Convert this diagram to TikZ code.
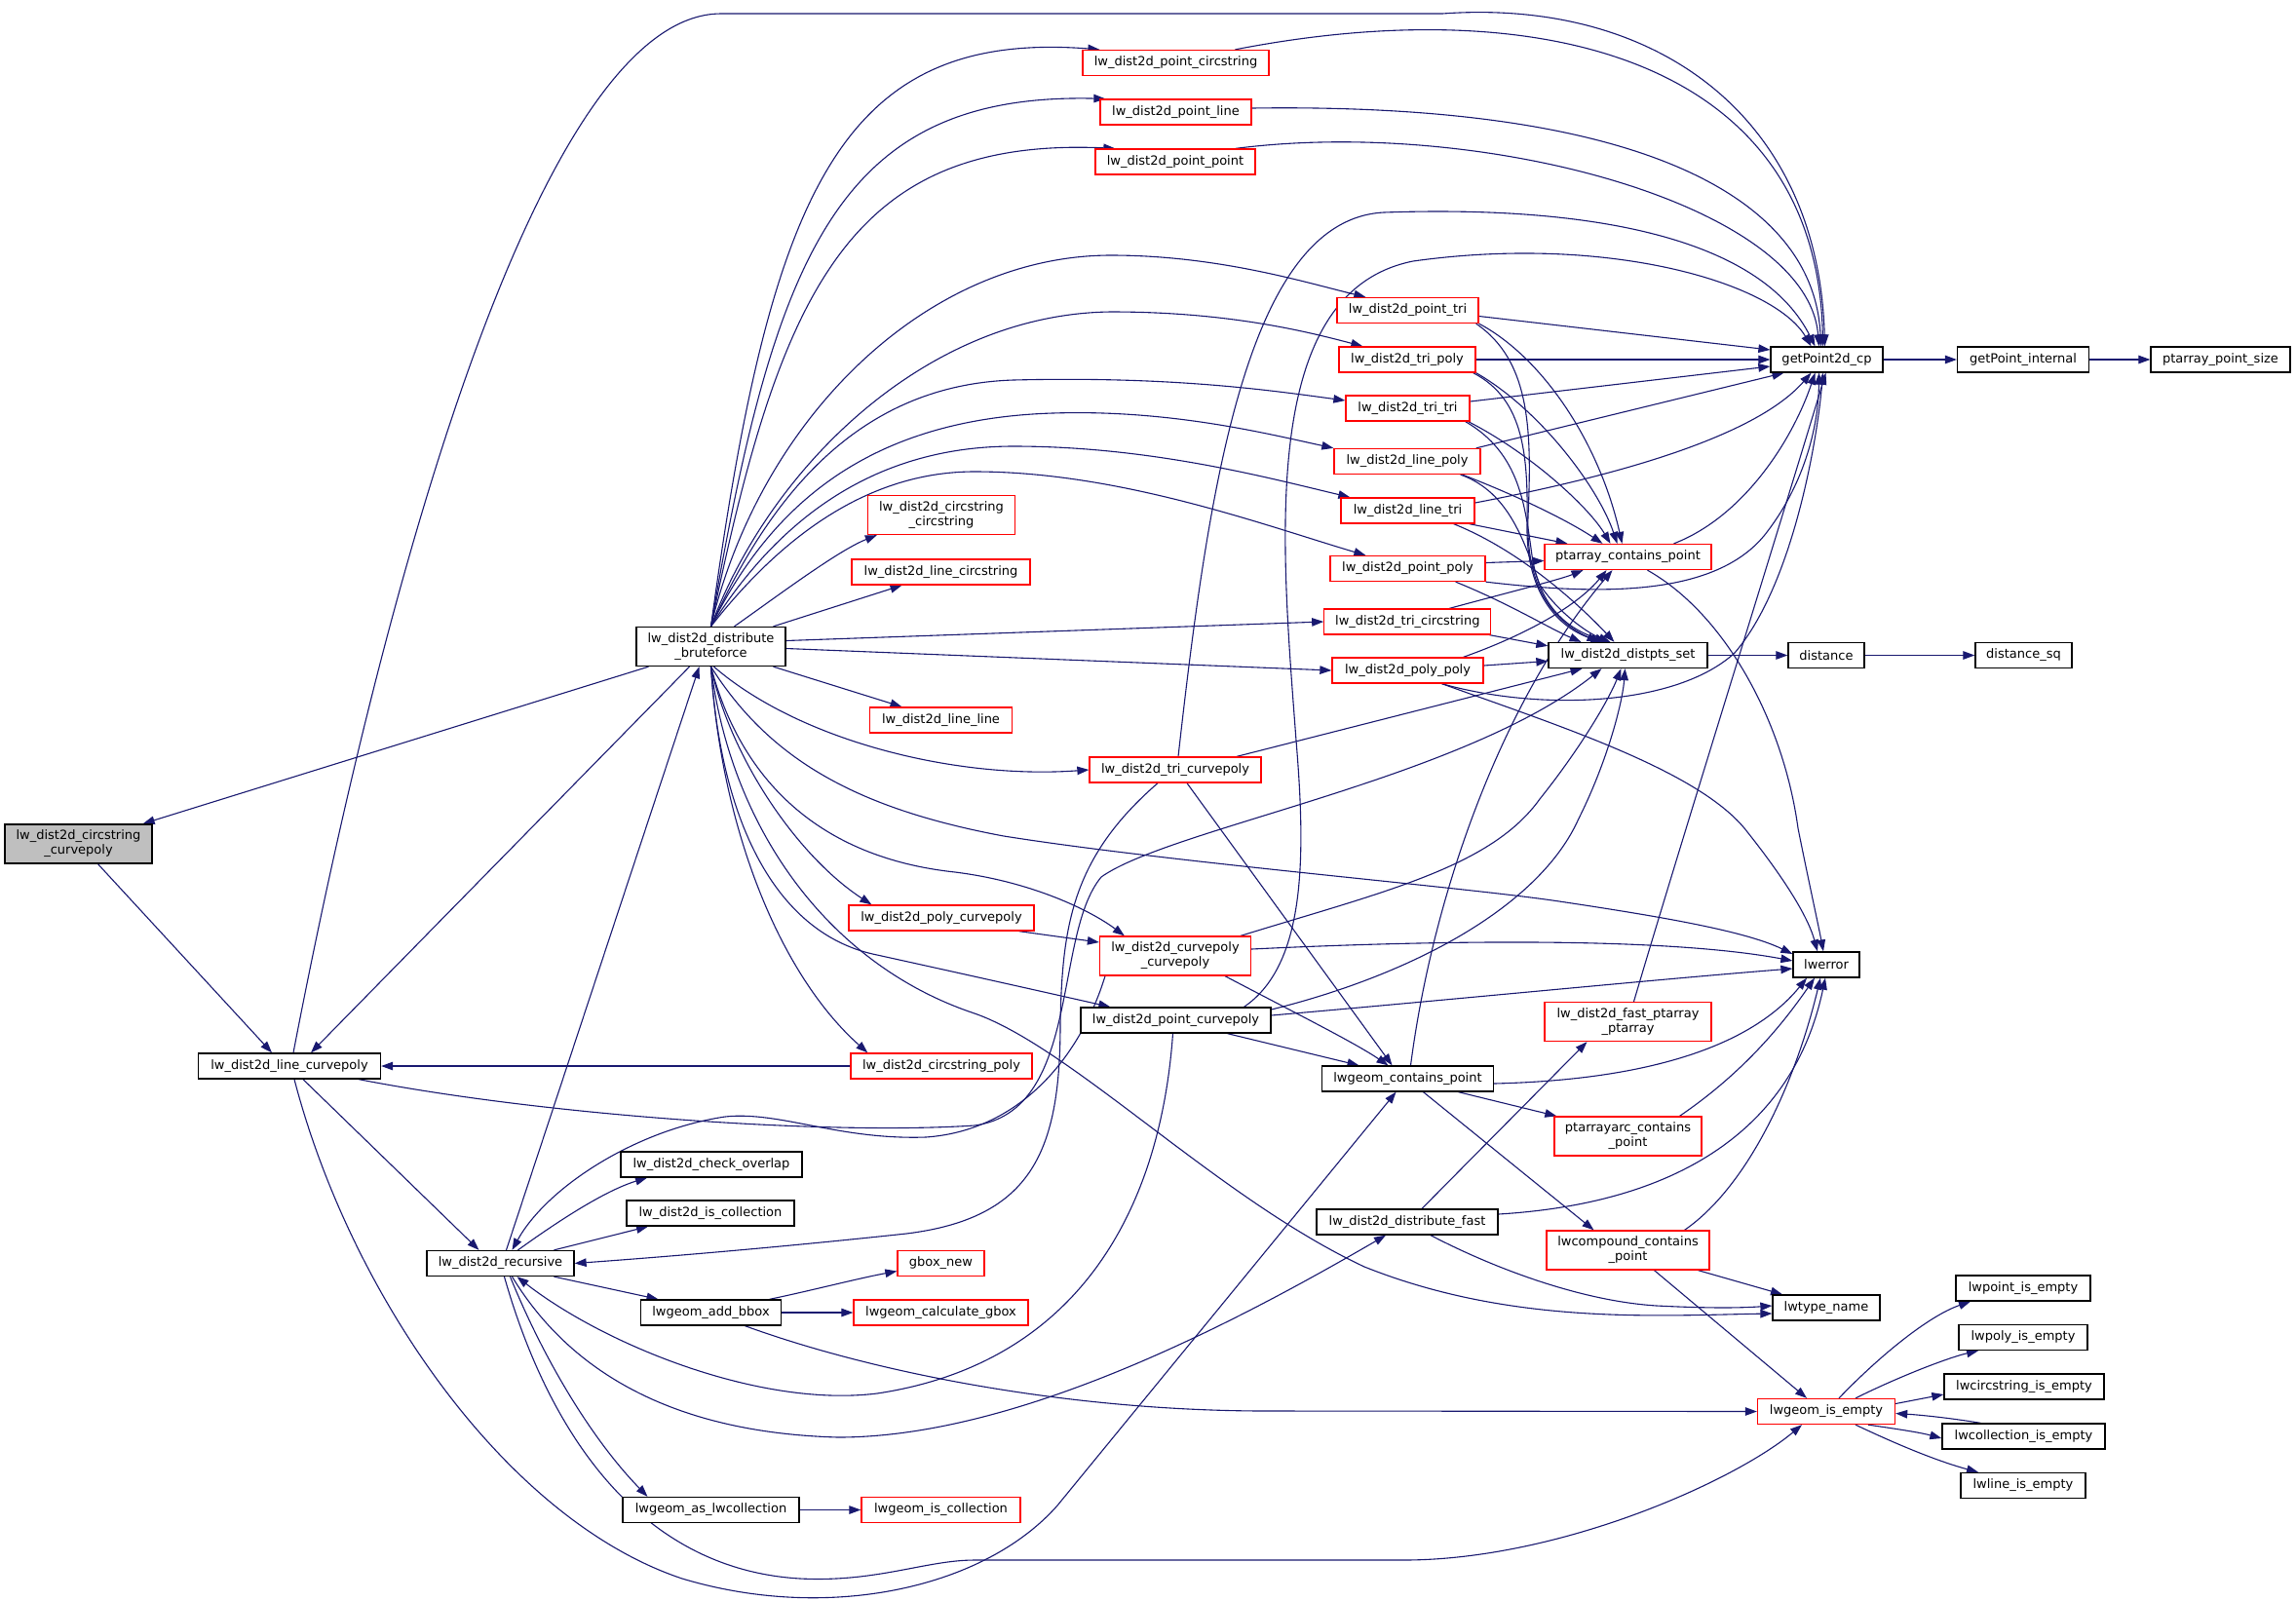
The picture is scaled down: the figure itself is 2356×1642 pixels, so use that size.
\documentclass[tikz,border=0pt]{standalone}
\usepackage{fontspec}
\setmainfont{DejaVu Sans}
\usetikzlibrary{arrows.meta}
\pgfdeclarelayer{bg}
\pgfsetlayers{bg,main}
\definecolor{edgec}{HTML}{191970}
\definecolor{grayf}{HTML}{BFBFBF}
\begin{document}
\begin{tikzpicture}[x=1pt,y=-1pt,
  nd/.style={draw=black, fill=white, line width=1.3pt, inner sep=0pt, minimum height=26pt, align=center, font=\fontsize{13}{15}\selectfont},
  rd/.style={nd, draw=red},
  two/.style={minimum height=40pt},
  ed/.style={draw=edgec, line width=1.1pt, -{Triangle[length=12pt,width=8.5pt]}}
]
\useasboundingbox (0,0) rectangle (2356,1642);
% ---------------- nodes ----------------
\node[nd, fill=grayf, two, minimum width=151pt] (gray) at (80.5,866) {lw\_dist2d\_circstring\\\_curvepoly};
\node[nd, minimum width=187pt] (lcp) at (297,1094) {lw\_dist2d\_line\_curvepoly};
\node[nd, two, minimum width=153pt] (bf) at (729.5,663.5) {lw\_dist2d\_distribute\\\_bruteforce};
\node[nd, minimum width=151pt] (rec) at (513.5,1296.5) {lw\_dist2d\_recursive};
\node[nd, minimum width=186pt] (cko) at (730,1195) {lw\_dist2d\_check\_overlap};
\node[nd, minimum width=172pt] (isc) at (729,1245) {lw\_dist2d\_is\_collection};
\node[nd, minimum width=144pt] (abb) at (729.5,1347) {lwgeom\_add\_bbox};
\node[nd, minimum width=181pt] (alc) at (729.5,1549.5) {lwgeom\_as\_lwcollection};
\node[rd, minimum width=191pt] (pcs) at (1206.5,64.5) {lw\_dist2d\_point\_circstring};
\node[rd, minimum width=155pt] (pl) at (1206.5,115) {lw\_dist2d\_point\_line};
\node[rd, minimum width=164pt] (pp) at (1206,166) {lw\_dist2d\_point\_point};
\node[rd, two, minimum width=151pt] (cc) at (966,528.5) {lw\_dist2d\_circstring\\\_circstring};
\node[rd, minimum width=183pt] (lcs) at (965.5,587) {lw\_dist2d\_line\_circstring};
\node[rd, minimum width=146pt] (ll) at (965.5,739) {lw\_dist2d\_line\_line};
\node[rd, minimum width=176pt] (tcp) at (1206,790) {lw\_dist2d\_tri\_curvepoly};
\node[rd, minimum width=190pt] (pcp) at (966,942) {lw\_dist2d\_poly\_curvepoly};
\node[rd, two, minimum width=155pt] (ccp) at (1206,981) {lw\_dist2d\_curvepoly\\\_curvepoly};
\node[nd, minimum width=195pt] (ptcp) at (1206.5,1047) {lw\_dist2d\_point\_curvepoly};
\node[rd, minimum width=186pt] (csp) at (966,1094) {lw\_dist2d\_circstring\_poly};
\node[rd, minimum width=89pt] (gbn) at (965.5,1296.5) {gbox\_new};
\node[rd, minimum width=179pt] (lcg) at (965.5,1347) {lwgeom\_calculate\_gbox};
\node[rd, minimum width=163pt] (lic) at (965.5,1549.5) {lwgeom\_is\_collection};
\node[rd, minimum width=145pt] (pt) at (1444.5,318.5) {lw\_dist2d\_point\_tri};
\node[rd, minimum width=140pt] (tp) at (1444,369) {lw\_dist2d\_tri\_poly};
\node[rd, minimum width=127pt] (tt) at (1444.5,419) {lw\_dist2d\_tri\_tri};
\node[rd, minimum width=150pt] (lp) at (1444,473.5) {lw\_dist2d\_line\_poly};
\node[rd, minimum width=137pt] (lt) at (1444.5,524) {lw\_dist2d\_line\_tri};
\node[rd, minimum width=159pt] (ppo) at (1444.5,583.5) {lw\_dist2d\_point\_poly};
\node[rd, minimum width=171pt] (tcs) at (1444.3,638) {lw\_dist2d\_tri\_circstring};
\node[rd, minimum width=155pt] (pop) at (1444.5,688) {lw\_dist2d\_poly\_poly};
\node[nd, minimum width=176pt] (lgcp) at (1444.5,1107) {lwgeom\_contains\_point};
\node[nd, minimum width=186pt] (df) at (1444,1254) {lw\_dist2d\_distribute\_fast};
\node[rd, minimum width=171pt] (pacp) at (1670.5,571.5) {ptarray\_contains\_point};
\node[nd, minimum width=163pt] (dps) at (1670.5,672.5) {lw\_dist2d\_distpts\_set};
\node[rd, two, minimum width=171pt] (fpp) at (1670.5,1048.5) {lw\_dist2d\_fast\_ptarray\\\_ptarray};
\node[rd, two, minimum width=151pt] (pacq) at (1670.5,1166) {ptarrayarc\_contains\\\_point};
\node[rd, two, minimum width=167pt] (lccp) at (1670.5,1283) {lwcompound\_contains\\\_point};
\node[nd, minimum width=115pt] (gp) at (1874.5,369) {getPoint2d\_cp};
\node[nd, minimum width=78pt] (dist) at (1874,672.5) {distance};
\node[nd, minimum width=68pt] (err) at (1874,990) {lwerror};
\node[nd, minimum width=110pt] (ltn) at (1874,1342) {lwtype\_name};
\node[rd, minimum width=141pt] (lie) at (1874,1448.5) {lwgeom\_is\_empty};
\node[nd, minimum width=135pt] (gpi) at (2076,369) {getPoint\_internal};
\node[nd, minimum width=99pt] (dsq) at (2076.5,672.5) {distance\_sq};
\node[nd, minimum width=138pt] (lpe) at (2076,1322) {lwpoint\_is\_empty};
\node[nd, minimum width=132pt] (lpoe) at (2076,1372.5) {lwpoly\_is\_empty};
\node[nd, minimum width=164pt] (lcse) at (2077,1423) {lwcircstring\_is\_empty};
\node[nd, minimum width=167pt] (lcoe) at (2076.5,1474) {lwcollection\_is\_empty};
\node[nd, minimum width=128pt] (lle) at (2076,1524.5) {lwline\_is\_empty};
\node[nd, minimum width=143pt] (pps) at (2278.5,369) {ptarray\_point\_size};
% ---------------- edges ----------------
\begin{pgfonlayer}{bg}
\fill[white] (0,0) rectangle (2356,1642);
% gray and bruteforce
\draw[ed] ([xshift=20pt]gray.south) -- ([xshift=-18pt]lcp.north);
\draw[ed] ([xshift=-64pt]bf.south) -- ([xshift=-10pt]gray.north east);
\draw[ed] ([xshift=-22pt]bf.south) -- ([xshift=22pt]lcp.north);
\draw[ed] ([xshift=6pt]rec.north) -- ([xshift=-12pt]bf.south);
% line_curvepoly
\draw[ed] ([xshift=4pt]lcp.north) .. controls (401,561) and (560,14) .. (740,14) -- (1480,14) .. controls (1700,-2) and (1866,120) .. ([xshift=-2pt]gp.north);
\draw[ed] ([xshift=14pt]lcp.south) -- ([xshift=-22pt]rec.north);
\draw[ed] ([xshift=5pt]lcp.south) .. controls (360,1330) and (520,1560) .. (700,1620) .. controls (850,1665) and (1010,1630) .. (1085,1545) -- ([xshift=-12pt]lgcp.south);
\draw[ed] ([xshift=-23pt]lcp.south east) .. controls (560,1145) and (850,1165) .. (1000,1155) .. controls (1110,1140) and (1080,960) .. (1130,900) .. controls (1200,850) and (1500,800) .. ([xshift=-27pt]dps.south);
% recursive
\draw[ed] ([xshift=18pt]rec.north) .. controls (570,1255) and (620,1222) .. ([xshift=-66pt]cko.south);
\draw[ed] ([xshift=55pt]rec.north) -- ([xshift=-64pt]isc.south);
\draw[ed] ([xshift=55pt]rec.south) -- ([xshift=-54pt]abb.north);
\draw[ed] ([xshift=10pt]rec.south) .. controls (560,1400) and (610,1480) .. ([xshift=-65pt]alc.north);
\draw[ed] ([xshift=4pt]rec.south) .. controls (560,1460) and (650,1610) .. (821,1620) .. controls (900,1624) and (950,1601) .. (1000,1601) -- (1440,1601) .. controls (1600,1601) and (1780,1520) .. ([xshift=-25pt]lie.south);
\draw[ed] ([xshift=12pt]rec.south) .. controls (580,1400) and (680,1470) .. (860,1475) .. controls (1050,1475) and (1280,1350) .. ([xshift=-22pt]df.south);
% into recursive
\draw[ed] ([xshift=-3pt]ptcp.south) .. controls (1190,1250) and (1100,1400) .. (900,1430) .. controls (780,1445) and (620,1380) .. ([xshift=17pt]rec.south);
\draw[ed] ([xshift=-18pt]tcp.south) .. controls (1100,880) and (1090,950) .. (1088,1050) .. controls (1088,1180) and (1060,1250) .. (930,1266) .. controls (800,1280) and (680,1290) .. (rec.east);
\draw[ed] ([xshift=-72pt]ccp.south) .. controls (1110,1080) and (1050,1160) .. (950,1167) .. controls (860,1170) and (800,1140) .. (744,1146) .. controls (650,1160) and (560,1220) .. ([xshift=12pt]rec.north);
% bruteforce fan
\draw[ed] (bf.north) .. controls (790,200) and (860,30) .. ([xshift=18pt]pcs.north west);
\draw[ed] (bf.north) .. controls (795,260) and (860,95) .. ([xshift=6pt]pl.north west);
\draw[ed] (bf.north) .. controls (800,300) and (870,140) .. ([xshift=21pt]pp.north west);
\draw[ed] (bf.north) .. controls (780,430) and (950,262) .. (1140,262) .. controls (1250,262) and (1340,290) .. ([xshift=30pt]pt.north west);
\draw[ed] (bf.north) .. controls (790,480) and (950,322) .. (1140,320) .. controls (1260,320) and (1340,340) .. ([xshift=25pt]tp.north west);
\draw[ed] (bf.north) .. controls (790,510) and (880,395) .. (1040,390) .. controls (1200,386) and (1300,400) .. ([yshift=8pt]tt.west);
\draw[ed] (bf.north) .. controls (790,520) and (890,430) .. (1080,424) .. controls (1200,420) and (1300,445) .. (lp.north west);
\draw[ed] (bf.north) .. controls (800,530) and (900,458) .. (1040,458) .. controls (1180,458) and (1300,490) .. ([xshift=10pt]lt.north west);
\draw[ed] (bf.north) .. controls (810,540) and (900,484) .. (1000,484) .. controls (1150,484) and (1300,540) .. ([xshift=37pt]ppo.north west);
\draw[ed] ([xshift=24pt]bf.north) .. controls (800,610) and (860,565) .. ([xshift=10pt]cc.south west);
\draw[ed] ([xshift=64pt]bf.north) -- ([xshift=-40pt]lcs.south);
\draw[ed] ([yshift=6pt]bf.east) -- (tcs.west);
\draw[ed] ([yshift=-2pt]bf.east) -- (pop.west);
\draw[ed] ([xshift=64pt]bf.south) -- ([xshift=-40pt]ll.north);
\draw[ed] ([xshift=3pt]bf.south) .. controls (820,760) and (980,800) .. (tcp.west);
\draw[ed] (bf.south) .. controls (750,780) and (820,880) .. ([xshift=24pt]pcp.north west);
\draw[ed] (bf.south) .. controls (760,800) and (840,880) .. (980,895) .. controls (1060,905) and (1120,935) .. ([xshift=26pt]ccp.north west);
\draw[ed] (bf.south) .. controls (740,850) and (800,960) .. (900,980) .. controls (1000,1002) and (1080,1020) .. ([xshift=31pt]ptcp.north west);
\draw[ed] (bf.south) .. controls (740,850) and (800,1000) .. ([xshift=18pt]csp.north west);
\draw[ed] (bf.south) .. controls (790,780) and (880,830) .. (1030,858) .. controls (1200,885) and (1500,910) .. (1600,925) .. controls (1700,940) and (1790,955) .. ([yshift=11pt]err.west);
\draw[ed] (bf.south) .. controls (750,850) and (850,990) .. (1000,1040) .. controls (1100,1075) and (1250,1230) .. (1400,1300) .. controls (1550,1360) and (1700,1350) .. ([yshift=-6pt]ltn.west);
% small links on the left
\draw[ed] (csp.west) -- (lcp.east);
\draw[ed] ([xshift=-16pt]pcp.south east) -- ([yshift=14pt]ccp.west);
% into getPoint2d_cp
\draw[ed] ([xshift=61pt]pcs.north) .. controls (1580,-10) and (1865,60) .. ([xshift=-4pt]gp.north);
\draw[ed] ([yshift=4pt]pl.east) .. controls (1700,105) and (1862,210) .. ([xshift=-6pt]gp.north);
\draw[ed] ([xshift=62pt]pp.north) .. controls (1520,120) and (1855,210) .. ([xshift=-8pt]gp.north);
\draw[ed] ([xshift=3pt]tcp.north) .. controls (1240,500) and (1280,225) .. (1420,218) .. controls (1650,210) and (1810,250) .. ([xshift=-12pt]gp.north);
\draw[ed] ([xshift=70pt]ptcp.north) .. controls (1340,990) and (1340,880) .. (1330,760) .. controls (1315,560) and (1290,300) .. (1450,268) .. controls (1650,240) and (1820,290) .. ([xshift=-16pt]gp.north);
\draw[ed] ([yshift=-6pt]pt.east) -- ([yshift=10pt]gp.west);
\draw[ed] (tp.east) -- (gp.west);
\draw[ed] ([yshift=7pt]tt.east) -- ([yshift=-7pt]gp.west);
\draw[ed] ([xshift=-5pt]lp.north east) -- ([xshift=-44pt]gp.south);
\draw[ed] ([yshift=8pt]lt.east) .. controls (1650,490) and (1800,450) .. ([xshift=-16pt]gp.south);
\draw[ed] (ppo.south east) .. controls (1650,612) and (1760,610) .. (1810,550) .. controls (1850,500) and (1866,440) .. ([xshift=-8pt]gp.south);
\draw[ed] ([xshift=47pt]pacp.north) .. controls (1790,530) and (1840,450) .. ([xshift=-12pt]gp.south);
\draw[ed] ([xshift=35pt]pop.south) .. controls (1580,730) and (1720,725) .. (1780,670) .. controls (1840,600) and (1865,450) .. ([xshift=-4pt]gp.south);
\draw[ed] ([xshift=6pt]fpp.north) .. controls (1720,880) and (1820,560) .. ([xshift=-1pt]gp.south);
% into ptarray_contains_point
\draw[ed] (pt.south east) .. controls (1580,365) and (1640,450) .. ([xshift=-6pt]pacp.north);
\draw[ed] (tp.south east) .. controls (1580,420) and (1640,500) .. ([xshift=-11pt]pacp.north);
\draw[ed] ([xshift=-2pt]tt.south east) .. controls (1570,465) and (1630,520) .. ([xshift=-18pt]pacp.north);
\draw[ed] ([xshift=-19pt]lp.south east) .. controls (1560,510) and (1610,535) .. ([xshift=-26pt]pacp.north);
\draw[ed] ([xshift=-6pt]lt.south east) -- ([xshift=-62pt]pacp.north);
\draw[ed] ([yshift=6pt]ppo.east) -- ([yshift=-4pt]pacp.west);
\draw[ed] ([xshift=43pt]tcs.north) .. controls (1540,610) and (1600,595) .. ([xshift=-46pt]pacp.south);
\draw[ed] ([xshift=57pt]pop.north) .. controls (1570,650) and (1620,620) .. ([xshift=-22pt]pacp.south);
\draw[ed] ([xshift=3pt]lgcp.north) .. controls (1470,920) and (1540,720) .. ([xshift=-16pt]pacp.south);
% into lw_dist2d_distpts_set
\draw[ed] ([xshift=-3pt]pt.south east) .. controls (1570,370) and (1572,440) .. (1568,530) .. controls (1565,610) and (1600,640) .. ([xshift=-30pt]dps.north);
\draw[ed] ([xshift=-3pt]tp.south east) .. controls (1565,410) and (1568,470) .. (1567,540) .. controls (1566,610) and (1600,645) .. ([xshift=-26pt]dps.north);
\draw[ed] ([xshift=-5pt]tt.south east) .. controls (1560,465) and (1565,520) .. (1572,570) .. controls (1580,625) and (1610,645) .. ([xshift=-22pt]dps.north);
\draw[ed] ([xshift=-21pt]lp.south east) .. controls (1550,505) and (1565,560) .. (1580,600) .. controls (1600,630) and (1630,650) .. ([xshift=-18pt]dps.north);
\draw[ed] ([xshift=-22pt]lt.south east) .. controls (1560,565) and (1620,620) .. ([xshift=-14pt]dps.north);
\draw[ed] ([xshift=-31pt]ppo.south east) .. controls (1550,620) and (1590,645) .. ([xshift=-48pt]dps.north);
\draw[ed] ([xshift=-2pt]tcs.south east) -- ([yshift=-4pt]dps.north west);
\draw[ed] ([yshift=5pt]pop.east) -- ([yshift=-6pt]dps.west);
\draw[ed] ([xshift=63pt]tcp.north) -- ([xshift=-47pt]dps.south);
\draw[ed] ([xshift=67pt]ccp.north) .. controls (1420,915) and (1530,890) .. (1580,820) .. controls (1620,770) and (1650,720) .. ([xshift=-7pt]dps.south);
\draw[ed] ([yshift=11pt]ptcp.east) .. controls (1450,1000) and (1580,930) .. (1620,840) .. controls (1650,780) and (1665,720) .. ([xshift=-3pt]dps.south);
% into lwerror
\draw[ed] ([xshift=20pt]pacp.south) .. controls (1770,630) and (1830,740) .. (1845,850) .. controls (1855,900) and (1866,950) .. ([xshift=-3pt]err.north);
\draw[ed] ([xshift=35pt]pop.south) .. controls (1600,745) and (1740,790) .. (1790,850) .. controls (1830,900) and (1855,940) .. ([xshift=-9pt]err.north);
\draw[ed] ([yshift=7pt]ccp.east) .. controls (1450,966) and (1700,960) .. ([yshift=4pt]err.west);
\draw[ed] ([yshift=5pt]ptcp.east) .. controls (1500,1025) and (1700,1005) .. ([yshift=-4pt]err.west);
\draw[ed] ([yshift=-5pt]lgcp.east) .. controls (1700,1108) and (1800,1070) .. ([xshift=-20pt]err.south);
\draw[ed] ([xshift=53pt]pacq.north) .. controls (1790,1100) and (1830,1050) .. ([xshift=-12pt]err.south);
\draw[ed] ([xshift=58pt]lccp.north) .. controls (1790,1220) and (1840,1120) .. ([xshift=-6pt]err.south);
\draw[ed] ([yshift=8pt]df.east) .. controls (1720,1235) and (1840,1160) .. ([xshift=-1pt]err.south);
% distribute_fast, contains_point and compound
\draw[ed] ([xshift=15pt]df.north) -- ([xshift=-42pt]fpp.south);
\draw[ed] ([xshift=24pt]df.south) .. controls (1530,1300) and (1620,1335) .. (1700,1340) .. controls (1760,1343) and (1790,1342) .. ([yshift=2pt]ltn.west);
\draw[ed] ([xshift=72pt]lccp.south) -- ([xshift=-45pt]ltn.north);
\draw[ed] ([xshift=27pt]lccp.south) -- ([xshift=-20pt]lie.north);
\draw[ed] ([xshift=52pt]lgcp.south) -- ([xshift=3pt]pacq.north west);
\draw[ed] ([xshift=16pt]lgcp.south) -- ([xshift=-35pt]lccp.north);
\draw[ed] ([xshift=12pt]tcp.south) -- ([xshift=-16pt]lgcp.north);
\draw[ed] ([xshift=51pt]ccp.south) .. controls (1330,1040) and (1390,1070) .. ([xshift=-20pt]lgcp.north);
\draw[ed] ([xshift=53pt]ptcp.south) -- ([xshift=-50pt]lgcp.north);
% bbox and collection
\draw[ed] ([xshift=60pt]abb.north) .. controls (830,1325) and (880,1312) .. ([yshift=-8pt]gbn.west);
\draw[ed] (abb.east) -- (lcg.west);
\draw[ed] ([xshift=35pt]abb.south) .. controls (900,1410) and (1100,1448) .. (1300,1448) -- (lie.west);
\draw[ed] (alc.east) -- (lic.west);
% right chains
\draw[ed] (gp.east) -- (gpi.west);
\draw[ed] (gpi.east) -- (pps.west);
\draw[ed] (dps.east) -- (dist.west);
\draw[ed] (dist.east) -- (dsq.west);
% is_empty fan
\draw[ed] ([xshift=13pt]lie.north) .. controls (1930,1390) and (1980,1350) .. ([xshift=-54pt]lpe.south);
\draw[ed] ([xshift=30pt]lie.north) .. controls (1950,1412) and (2000,1393) .. ([xshift=-46pt]lpoe.south);
\draw[ed] ([yshift=8pt]lie.east) -- ([yshift=-8pt]lcse.west);
\draw[ed] ([xshift=-44pt]lcoe.north) .. controls (2000,1455) and (1970,1452) .. ([yshift=-2pt]lie.east);
\draw[ed] ([xshift=43pt]lie.south) .. controls (1950,1467) and (1970,1470) .. ([yshift=-2pt]lcoe.west);
\draw[ed] ([xshift=30pt]lie.south) .. controls (1950,1484) and (1990,1500) .. ([xshift=-46pt]lle.north);
\end{pgfonlayer}
\end{tikzpicture}
\end{document}
